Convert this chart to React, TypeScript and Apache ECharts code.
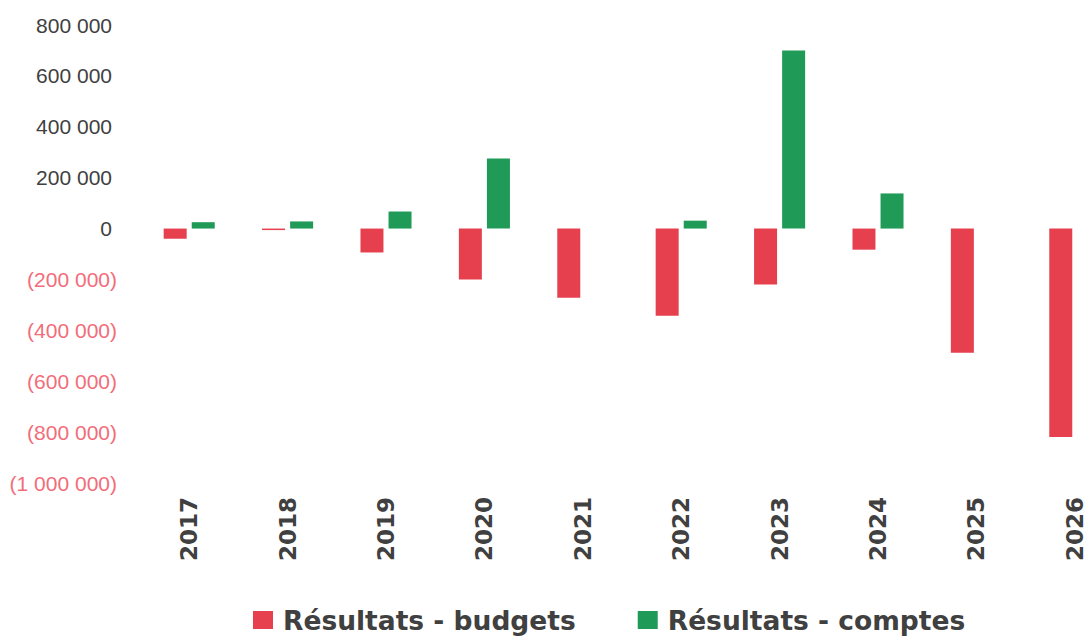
import React, { useEffect, useRef } from "react";
import * as echarts from "echarts";

const years = ["2017", "2018", "2019", "2020", "2021", "2022", "2023", "2024", "2025", "2026"];
const budgets = [-40000, -6000, -94000, -200000, -272000, -343000, -220000, -83000, -488000, -819000];
const comptes = [25000, 28000, 67000, 275000, null, 31000, 700000, 138000, null, null];
const seriesNames = ["Résultats - budgets", "Résultats - comptes"];
const seriesColors = ["#E6404F", "#1F9A57"];

function fmt(v: number): string {
  const s = Math.abs(v).toString().replace(/\B(?=(\d{3})+(?!\d))/g, " ");
  return v < 0 ? `{n|(${s})}` : `{p|${s}}`;
}

export default function App() {
  const ref = useRef<HTMLDivElement>(null);
  useEffect(() => {
    document.body.style.margin = "0";
    const chart = echarts.init(ref.current!, undefined, { renderer: "svg" });
    chart.setOption({
      animation: false,
      backgroundColor: "#ffffff",
      grid: { left: 140, top: 25, width: 984, height: 458, containLabel: false, outerBoundsMode: "none" },
      legend: {
        left: 253,
        top: 606,
        padding: 0,
        itemWidth: 20,
        itemHeight: 18,
        itemGap: 62,
        icon: "rect",
        data: seriesNames,
        textStyle: {
          fontFamily: "DejaVu Sans",
          fontWeight: "bold",
          fontSize: 26.5,
          lineHeight: 28,
          color: "#404040",
          padding: [0, 0, 0, 5],
        },
      },
      xAxis: {
        type: "category",
        data: years,
        position: "bottom",
        axisLine: { show: false, onZero: false },
        axisTick: { show: false },
        axisLabel: {
          rotate: 90,
          margin: 14,
          fontFamily: "DejaVu Sans",
          fontWeight: "bold",
          fontSize: 23,
          color: "#404040",
          interval: 0,
        },
      },
      yAxis: {
        type: "value",
        min: -1000000,
        max: 800000,
        interval: 200000,
        splitLine: { show: false },
        axisLine: { show: false },
        axisTick: { show: false },
        axisLabel: {
          margin: 23,
          formatter: (v: number) => fmt(v),
          rich: {
            p: { fontFamily: "Liberation Sans", fontSize: 21, color: "#404040", padding: [0, 5, 0, 0] },
            n: { fontFamily: "Liberation Sans", fontSize: 21, color: "#F26D7A" },
          },
        },
      },
      series: [
        {
          name: seriesNames[0],
          type: "bar",
          data: budgets,
          barWidth: 23,
          barGap: "22%",
          itemStyle: { color: seriesColors[0] },
        },
        {
          name: seriesNames[1],
          type: "bar",
          data: comptes,
          barWidth: 23,
          barGap: "22%",
          itemStyle: { color: seriesColors[1] },
        },
      ],
    });
    return () => chart.dispose();
  }, []);
  return <div ref={ref} style={{ width: 1090, height: 637 }} />;
}
